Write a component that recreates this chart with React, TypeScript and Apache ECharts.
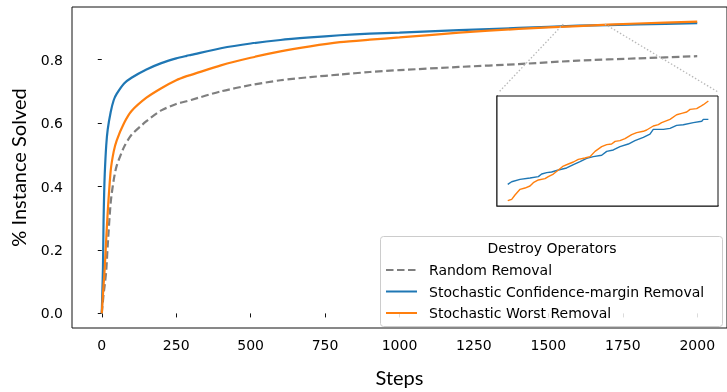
import React, { useEffect, useRef } from "react";
import * as echarts from "echarts";

// ---- data ----
const steps = [0, 2, 4, 6, 8, 10, 15, 20, 30, 40, 50, 75, 100, 150, 200, 250, 285, 300, 400, 500, 600, 700, 800, 900, 1000, 1200, 1400, 1600, 1800, 2000];
const randomRemoval = [0, 0.02, 0.04, 0.06, 0.075, 0.09, 0.135, 0.215, 0.35, 0.42, 0.465, 0.525, 0.563, 0.606, 0.64, 0.66, 0.669, 0.673, 0.7, 0.72, 0.735, 0.745, 0.753, 0.761, 0.767, 0.777, 0.786, 0.797, 0.804, 0.811];
const confidenceMargin = [0, 0.07, 0.144, 0.29, 0.38, 0.44, 0.53, 0.58, 0.635, 0.672, 0.692, 0.725, 0.743, 0.769, 0.789, 0.804, 0.812, 0.815, 0.836, 0.851, 0.862, 0.87, 0.877, 0.882, 0.885, 0.893, 0.9, 0.907, 0.911, 0.915];
const worstRemoval = [0, 0.03, 0.06, 0.09, 0.115, 0.144, 0.235, 0.32, 0.45, 0.51, 0.545, 0.6, 0.638, 0.68, 0.71, 0.735, 0.748, 0.752, 0.782, 0.806, 0.826, 0.842, 0.855, 0.863, 0.87, 0.885, 0.897, 0.906, 0.914, 0.92];

// zoomed inset (steps ~1557..1684)
const insetStepsBlue = [1556.8, 1559.3, 1564.6, 1570.9, 1576.2, 1578.3, 1581.5, 1584.6, 1588.9, 1594.1, 1598.4, 1602.6, 1606.8, 1611.0, 1616.3, 1619.5, 1623.7, 1627.9, 1633.2, 1637.4, 1642.7, 1646.9, 1649.0, 1655.4, 1659.6, 1663.8, 1668.0, 1674.4, 1679.7, 1680.7, 1683.9];
const insetBlue = [0.90236, 0.90265, 0.90291, 0.90305, 0.9032, 0.90349, 0.90364, 0.90371, 0.90393, 0.90415, 0.90451, 0.90484, 0.9052, 0.90538, 0.90553, 0.90596, 0.90611, 0.90647, 0.90676, 0.90713, 0.90749, 0.90785, 0.90836, 0.90836, 0.90847, 0.9088, 0.90887, 0.90909, 0.90924, 0.90945, 0.90945];
const insetStepsOrange = [1556.8, 1559.3, 1561.4, 1564.6, 1567.7, 1570.9, 1573.0, 1576.2, 1580.4, 1582.5, 1585.7, 1588.9, 1592.0, 1595.2, 1598.4, 1601.5, 1605.7, 1608.9, 1612.1, 1616.3, 1619.5, 1622.6, 1624.8, 1627.9, 1631.1, 1635.3, 1638.5, 1642.7, 1644.8, 1649.0, 1652.2, 1654.3, 1659.6, 1663.8, 1667.0, 1670.2, 1672.3, 1676.5, 1678.6, 1680.7, 1683.9];
const insetOrange = [0.90058, 0.90073, 0.9012, 0.90182, 0.90196, 0.90218, 0.90254, 0.90284, 0.90298, 0.9032, 0.90349, 0.90393, 0.90436, 0.90458, 0.9048, 0.90509, 0.90524, 0.90538, 0.90596, 0.90647, 0.90669, 0.90676, 0.90705, 0.90713, 0.90734, 0.90778, 0.908, 0.90815, 0.90829, 0.90873, 0.90887, 0.90909, 0.90945, 0.90996, 0.91011, 0.91025, 0.91054, 0.91062, 0.91083, 0.91105, 0.91145];

const xTicks = [0, 250, 500, 750, 1000, 1250, 1500, 1750, 2000];
const yTicks = [0, 0.2, 0.4, 0.6, 0.8];
const seriesNames = ["Random Removal", "Stochastic Confidence-margin Removal", "Stochastic Worst Removal"];
const legendTitle = "Destroy Operators";
const xTitle = "Steps";
const yTitle = "% Instance Solved";
const zoomX = [1550, 1690];
const zoomY = [0.9, 0.912];

const BLUE = "#1f77b4";
const ORANGE = "#ff7f0e";
const GRAY = "#7f7f7f";

export default function App() {
  const ref = useRef<HTMLDivElement>(null);
  useEffect(() => {
    if (!ref.current) return;
    const chart = echarts.init(ref.current, undefined, { renderer: "svg" });
    const tickFont = { fontFamily: "DejaVu Sans", fontSize: 14, color: "#000" };
    const pair = (xs: number[], ys: number[]) => xs.map((x, i) => [x, ys[i]]);
    chart.setOption({
      animation: false,
      grid: [
        { left: 72, top: 7, width: 660, height: 328, show: true, borderColor: "#111", borderWidth: 1, backgroundColor: "transparent" },
        { left: 497, top: 96, width: 221, height: 110, show: true, borderColor: "#111", borderWidth: 1, backgroundColor: "#fff", z: 5 },
      ],
      xAxis: [
        {
          type: "value", gridIndex: 0, min: -100, max: 2100,
          splitLine: { show: false },
          axisLine: { show: false },
          axisTick: { show: true, length: 4, lineStyle: { color: "#111" }, customValues: xTicks },
          axisLabel: { ...tickFont, margin: 10, customValues: xTicks, formatter: (v: number) => String(v) },
          name: xTitle, nameLocation: "middle", nameGap: 39,
          nameTextStyle: { fontFamily: "Lato", fontSize: 20, color: "#000" },
        },
        {
          type: "value", gridIndex: 1, min: zoomX[0], max: zoomX[1],
          splitLine: { show: false },
          axisLine: { show: true, lineStyle: { color: "#777", width: 2 } },
          axisTick: { show: false }, axisLabel: { show: false },
        },
      ],
      yAxis: [
        {
          type: "value", gridIndex: 0, min: -0.046, max: 0.966,
          splitLine: { show: false },
          axisLine: { show: false },
          axisTick: { show: true, length: 4, lineStyle: { color: "#111" }, customValues: yTicks },
          axisLabel: { ...tickFont, margin: 9, customValues: yTicks, formatter: (v: number) => v.toFixed(1) },
          name: yTitle, nameLocation: "middle", nameGap: 44, nameRotate: 90,
          nameTextStyle: { fontFamily: "Lato", fontSize: 20, color: "#000" },
        },
        {
          type: "value", gridIndex: 1, min: zoomY[0], max: zoomY[1],
          splitLine: { show: false },
          axisLine: { show: true, lineStyle: { color: "#777", width: 2 } },
          axisTick: { show: false }, axisLabel: { show: false },
        },
      ],
      legend: {
        data: seriesNames,
        orient: "vertical",
        left: 385, top: 262,
        padding: 0,
        itemWidth: 31, itemHeight: 16, itemGap: 5.5,
        itemStyle: { opacity: 0 },
        textStyle: { fontFamily: "DejaVu Sans", fontSize: 14, color: "#000", padding: [0, 0, 0, 7], lineHeight: 16 },
        z: 20,
      },
      series: [
        {
          name: seriesNames[0], type: "line", xAxisIndex: 0, yAxisIndex: 0,
          data: pair(steps, randomRemoval), showSymbol: false, symbol: "none", smooth: 0.25,
          lineStyle: { color: GRAY, width: 2.2, type: [7.5, 3.5] }, itemStyle: { color: GRAY }, z: 2,
        },
        {
          name: seriesNames[1], type: "line", xAxisIndex: 0, yAxisIndex: 0,
          data: pair(steps, confidenceMargin), showSymbol: false, symbol: "none", smooth: 0.25,
          lineStyle: { color: BLUE, width: 2.2 }, itemStyle: { color: BLUE }, z: 3,
        },
        {
          name: seriesNames[2], type: "line", xAxisIndex: 0, yAxisIndex: 0,
          data: pair(steps, worstRemoval), showSymbol: false, symbol: "none", smooth: 0.25,
          lineStyle: { color: ORANGE, width: 2.2 }, itemStyle: { color: ORANGE }, z: 4,
        },
        {
          name: seriesNames[1], type: "line", xAxisIndex: 1, yAxisIndex: 1,
          data: pair(insetStepsBlue, insetBlue), showSymbol: false, symbol: "none",
          lineStyle: { color: BLUE, width: 1.4 }, itemStyle: { color: BLUE }, z: 10,
        },
        {
          name: seriesNames[2], type: "line", xAxisIndex: 1, yAxisIndex: 1,
          data: pair(insetStepsOrange, insetOrange), showSymbol: false, symbol: "none",
          lineStyle: { color: ORANGE, width: 1.4 }, itemStyle: { color: ORANGE }, z: 11,
        },
      ],
    });

    const a0 = chart.convertToPixel({ gridIndex: 0 } as any, [zoomX[0], zoomY[1]]) as number[];
    const b0 = chart.convertToPixel({ gridIndex: 0 } as any, [zoomX[1], zoomY[1]]) as number[];
    const a1 = chart.convertToPixel({ gridIndex: 1 } as any, [zoomX[0], zoomY[1]]) as number[];
    const b1 = chart.convertToPixel({ gridIndex: 1 } as any, [zoomX[1], zoomY[1]]) as number[];
    const conn = { stroke: "#b8b8b8", lineWidth: 1.3, lineDash: [1.5, 2] };
    chart.setOption({
      graphic: [
        { type: "line", z: 6, shape: { x1: a0[0], y1: a0[1], x2: a1[0] + 2, y2: a1[1] - 4 }, style: conn },
        { type: "line", z: 6, shape: { x1: b0[0], y1: b0[1], x2: b1[0], y2: b1[1] - 4 }, style: conn },
        {
          type: "rect", z: 15,
          shape: { x: 380.5, y: 236.5, width: 342, height: 90, r: 3 },
          style: { fill: "rgba(255,255,255,0.85)", stroke: "#cccccc", lineWidth: 1 },
        },
        {
          type: "text", z: 16, x: 552, y: 248,
          style: { text: legendTitle, fontFamily: "DejaVu Sans", fontSize: 14, fill: "#000", align: "center", verticalAlign: "middle" },
        },
      ],
    });
    return () => chart.dispose();
  }, []);
  return <div ref={ref} style={{ position: "fixed", left: 0, top: 0, width: 727, height: 392 }} />;
}
